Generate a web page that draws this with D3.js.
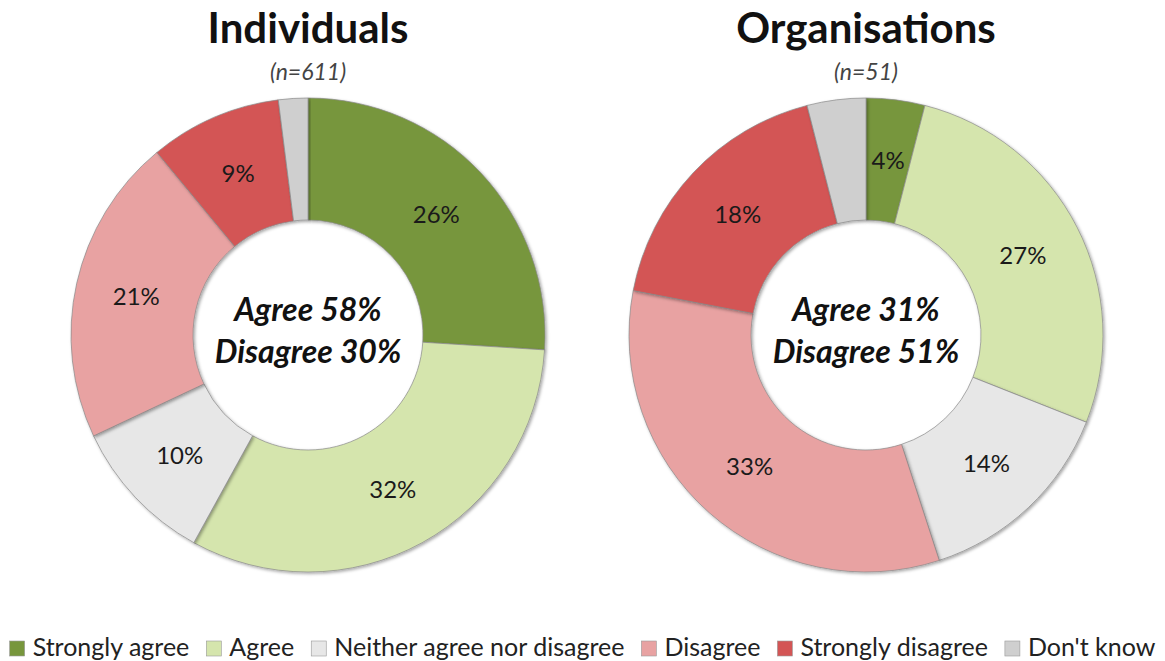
<!DOCTYPE html>
<html>
<head>
<meta charset="utf-8">
<script src="https://cdn.jsdelivr.net/npm/d3@7"></script>
<style>
  body { margin: 0; background: #fff; }
  text { font-family: Lato, "Open Sans", sans-serif; }
</style>
</head>
<body>
<div id="vis"></div>
<script>
var width = 1165, height = 661;

var categories = ["Strongly agree", "Agree", "Neither agree nor disagree", "Disagree", "Strongly disagree", "Don't know"];
var colours = ["#77963c", "#d5e5ad", "#e7e7e7", "#e8a2a2", "#d35555", "#cfcfcf"];

var individuals = [26, 32, 10, 21, 9, 2];
var organisations = [4, 27, 14, 33, 18, 4];

var charts = [
  {title: "Individuals", n: "(n=611)", values: individuals, summary: ["Agree 58%", "Disagree 30%"], cx: 308},
  {title: "Organisations", n: "(n=51)", values: organisations, summary: ["Agree 31%", "Disagree 51%"], cx: 866}
];

var cy = 335, outerR = 237, innerR = 115;

var svg = d3.select("#vis").append("svg")
  .attr("width", width)
  .attr("height", height);

var defs = svg.append("defs");
defs.append("filter").attr("id", "shadow")
  .attr("x", "-10%").attr("y", "-10%").attr("width", "120%").attr("height", "120%")
  .append("feDropShadow")
  .attr("dx", 1.5).attr("dy", 1.5).attr("stdDeviation", 1.5)
  .attr("flood-color", "#000").attr("flood-opacity", 0.35);

var pie = d3.pie().sort(null).value(function (d) { return d; });
var arc = d3.arc().innerRadius(innerR).outerRadius(outerR);

charts.forEach(function (c) {
  var g = svg.append("g").attr("transform", "translate(" + c.cx + "," + cy + ")");

  svg.append("text")
    .attr("x", c.cx).attr("y", 43)
    .attr("text-anchor", "middle")
    .style("font-size", "42px").style("font-weight", "bold").style("fill", "#111")
    .text(c.title);

  svg.append("text")
    .attr("x", c.cx).attr("y", 80)
    .attr("text-anchor", "middle")
    .style("font-size", "23px").style("font-style", "italic").style("fill", "#444")
    .text(c.n);

  var arcs = pie(c.values);

  g.selectAll("path")
    .data(arcs)
    .enter()
    .append("path")
    .attr("d", arc)
    .attr("fill", function (d, i) { return colours[i]; })
    .attr("stroke", "#8a8a8a")
    .attr("stroke-width", 0.7)
    .attr("filter", "url(#shadow)");

  // no label on the "Don't know" slice
  g.selectAll(".labels")
    .data(arcs.filter(function (d) { return d.index < 5; }))
    .enter()
    .append("text")
    .classed("labels", true)
    .attr("transform", function (d) { return "translate(" + arc.centroid(d) + ")"; })
    .attr("dy", ".35em")
    .style("text-anchor", "middle")
    .style("font-size", "24px")
    .style("fill", "#1a1a1a")
    .text(function (d) { return d.data + "%"; });

  g.selectAll(".summary")
    .data(c.summary)
    .enter()
    .append("text")
    .attr("y", function (d, i) { return -14 + i * 42; })
    .attr("text-anchor", "middle")
    .style("font-size", "32px").style("font-weight", "bold").style("font-style", "italic")
    .style("fill", "#111")
    .text(function (d) { return d; });
});

// legend
var legend = svg.append("g");
var x = 0;
categories.forEach(function (name, i) {
  var item = legend.append("g").attr("transform", "translate(" + x + ",0)");
  item.append("rect")
    .attr("x", 0).attr("y", -15).attr("width", 15).attr("height", 15)
    .attr("fill", colours[i]).attr("stroke", "#999").attr("stroke-width", 0.6);
  var t = item.append("text")
    .attr("x", 23).attr("y", 0)
    .style("font-size", "25px").style("fill", "#222")
    .text(name);
  x += 23 + t.node().getComputedTextLength() + 17;
});
x -= 17;
legend.attr("transform", "translate(" + ((width - x) / 2) + ",656)");
</script>
</body>
</html>
